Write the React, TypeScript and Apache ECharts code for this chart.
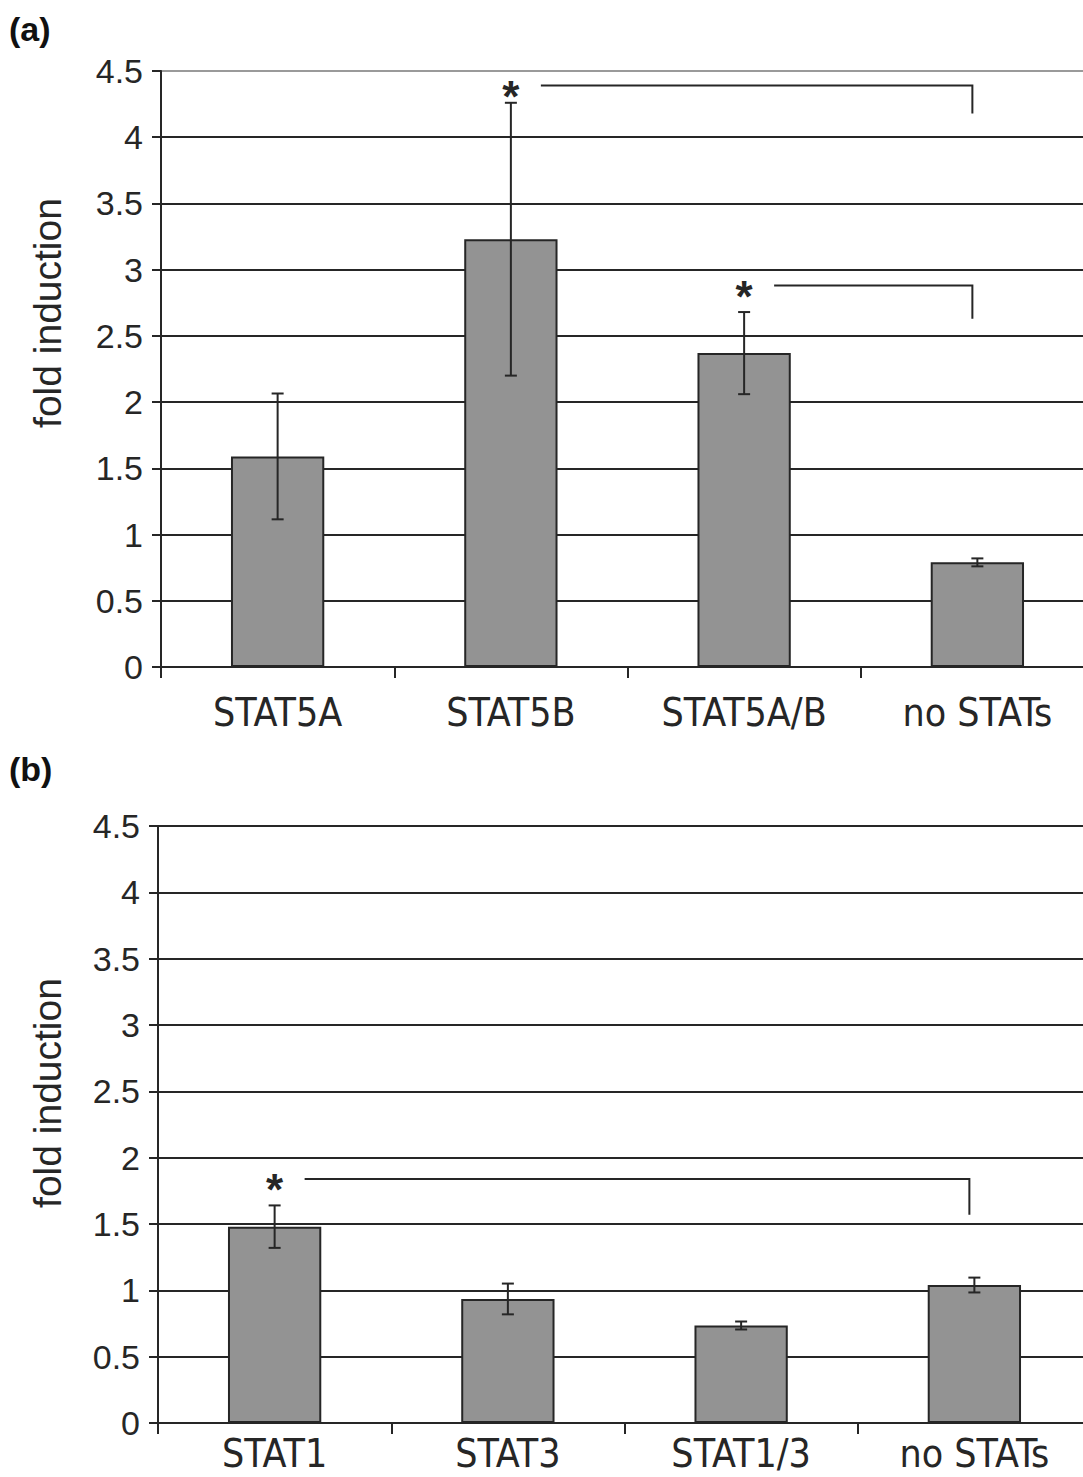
import React, { useEffect, useRef } from "react";
import * as echarts from "echarts";

// Panel (a)
const categoriesA = ["STAT5A", "STAT5B", "STAT5A/B", "no STATs"];
const valuesA = [1.59, 3.23, 2.37, 0.79];
const errorsA = [0.475, 1.03, 0.31, 0.03];
const bracketFromA = [1, 2];
const bracketToA = [3, 3];
const bracketLevelA = [4.39, 2.88];
const bracketDropA = [4.18, 2.63];

// Panel (b)
const categoriesB = ["STAT1", "STAT3", "STAT1/3", "no STATs"];
const valuesB = [1.48, 0.935, 0.735, 1.04];
const errorsB = [0.16, 0.116, 0.03, 0.056];
const bracketFromB = [0];
const bracketToB = [3];
const bracketLevelB = [1.84];
const bracketDropB = [1.57];

const yTicks = { min: 0, max: 4.5, interval: 0.5 };

const INK = "#262626";
const NUM_FONT = '"Liberation Sans", Arial, sans-serif';
const CAT_FONT = '"Liberation Sans Narrow", "DejaVu Sans Condensed", sans-serif';

function errorRender(params: any, api: any) {
  const c = api.value(0);
  const m = api.value(1);
  const e = api.value(2);
  const top = api.coord([c, m + e]);
  const bot = api.coord([c, m - e]);
  const hw = 6;
  const style = { stroke: INK, lineWidth: 2 };
  return {
    type: "group",
    children: [
      { type: "line", shape: { x1: top[0], y1: top[1], x2: bot[0], y2: bot[1] }, style },
      { type: "line", shape: { x1: top[0] - hw, y1: top[1], x2: top[0] + hw, y2: top[1] }, style },
      { type: "line", shape: { x1: bot[0] - hw, y1: bot[1], x2: bot[0] + hw, y2: bot[1] }, style },
    ],
  };
}

function bracketRender(params: any, api: any) {
  const from = api.value(0);
  const to = api.value(1);
  const level = api.value(2);
  const drop = api.value(3);
  const p1 = api.coord([from, level]);
  const p2 = api.coord([to, level]);
  const p3 = api.coord([to, drop]);
  return {
    type: "group",
    children: [
      {
        type: "polyline",
        shape: {
          points: [
            [p1[0] + 30, p1[1]],
            [p2[0] - 5, p2[1]],
            [p2[0] - 5, p3[1]],
          ],
        },
        style: { stroke: INK, lineWidth: 2, fill: "none" },
      },
      {
        type: "text",
        x: p1[0],
        y: p1[1] + 11,
        style: {
          text: "*",
          fontSize: 44,
          fontWeight: "bold",
          fontFamily: NUM_FONT,
          fill: INK,
          align: "center",
          verticalAlign: "middle",
        },
      },
    ],
  };
}

function makeYAxis(gridIndex: number, topGray: boolean) {
  const colors: string[] = [];
  for (let i = 0; i < 10; i++) colors.push(INK);
  if (topGray) colors[9] = "#9a9a9a";
  return {
    type: "value",
    gridIndex,
    min: yTicks.min,
    max: yTicks.max,
    interval: yTicks.interval,
    axisLine: { show: true, lineStyle: { color: INK, width: 2 } },
    axisTick: { show: true, length: 9, lineStyle: { color: INK, width: 2 } },
    axisLabel: {
      margin: 18,
      fontSize: 34,
      fontFamily: NUM_FONT,
      color: INK,
      formatter: (v: number) => String(v),
    },
    splitLine: { show: true, lineStyle: { color: colors, width: 2 } },
  };
}

function makeXAxis(gridIndex: number, cats: string[], margin: number, lineHeight: number) {
  return {
    type: "category",
    gridIndex,
    data: cats,
    axisLine: { show: true, lineStyle: { color: INK, width: 2 } },
    axisTick: { show: true, length: 11, interval: 0, alignWithLabel: false, lineStyle: { color: INK, width: 2 } },
    axisLabel: {
      interval: 0,
      margin,
      fontSize: 39,
      lineHeight,
      fontFamily: CAT_FONT,
      color: INK,
    },
    splitLine: { show: false },
  };
}

export default function App() {
  const ref = useRef<HTMLDivElement>(null);
  useEffect(() => {
    if (!ref.current) return;
    const chart = echarts.init(ref.current, undefined, { renderer: "svg" });
    const errA = valuesA.map((v, i) => [i, v, errorsA[i]]);
    const errB = valuesB.map((v, i) => [i, v, errorsB[i]]);
    const brA = bracketFromA.map((f, i) => [f, bracketToA[i], bracketLevelA[i], bracketDropA[i]]);
    const brB = bracketFromB.map((f, i) => [f, bracketToB[i], bracketLevelB[i], bracketDropB[i]]);
    const barStyle = { color: "#939393", borderColor: INK, borderWidth: 2 };
    const titleStyle = {
      text: "fold induction",
      fontSize: 39,
      fontFamily: NUM_FONT,
      fill: INK,
      align: "center",
      verticalAlign: "middle",
    };
    chart.setOption({
      animation: false,
      backgroundColor: "#ffffff",
      grid: [
        { left: 161, top: 71, width: 933, height: 596 },
        { left: 158, top: 826, width: 933, height: 597 },
      ],
      xAxis: [makeXAxis(0, categoriesA, 26, 39), makeXAxis(1, categoriesB, 13, 35)],
      yAxis: [makeYAxis(0, true), makeYAxis(1, false)],
      graphic: [
        {
          type: "text",
          x: 9,
          y: 12,
          style: { text: "(a)", fontSize: 34, fontWeight: "bold", fontFamily: NUM_FONT, fill: "#111" },
        },
        {
          type: "text",
          x: 9,
          y: 752,
          style: { text: "(b)", fontSize: 34, fontWeight: "bold", fontFamily: NUM_FONT, fill: "#111" },
        },
        { type: "text", x: 47, y: 313, rotation: Math.PI / 2, style: titleStyle },
        { type: "text", x: 47, y: 1093, rotation: Math.PI / 2, style: titleStyle },
      ],
      series: [
        { type: "bar", xAxisIndex: 0, yAxisIndex: 0, data: valuesA, barWidth: "40%", itemStyle: barStyle },
        { type: "bar", xAxisIndex: 1, yAxisIndex: 1, data: valuesB, barWidth: "40%", itemStyle: barStyle },
        { type: "custom", xAxisIndex: 0, yAxisIndex: 0, data: errA, encode: { x: 0, y: 1 }, renderItem: errorRender, z: 5 },
        { type: "custom", xAxisIndex: 1, yAxisIndex: 1, data: errB, encode: { x: 0, y: 1 }, renderItem: errorRender, z: 5 },
        { type: "custom", xAxisIndex: 0, yAxisIndex: 0, data: brA, encode: { x: 0, y: 2 }, renderItem: bracketRender, z: 5 },
        { type: "custom", xAxisIndex: 1, yAxisIndex: 1, data: brB, encode: { x: 0, y: 2 }, renderItem: bracketRender, z: 5 },
      ],
    });
    return () => chart.dispose();
  }, []);
  return (
    <div
      style={{
        position: "absolute",
        left: 0,
        top: 0,
        width: 1083,
        height: 1477,
        overflow: "hidden",
      }}
    >
      <div ref={ref} style={{ width: 1100, height: 1477 }} />
    </div>
  );
}
